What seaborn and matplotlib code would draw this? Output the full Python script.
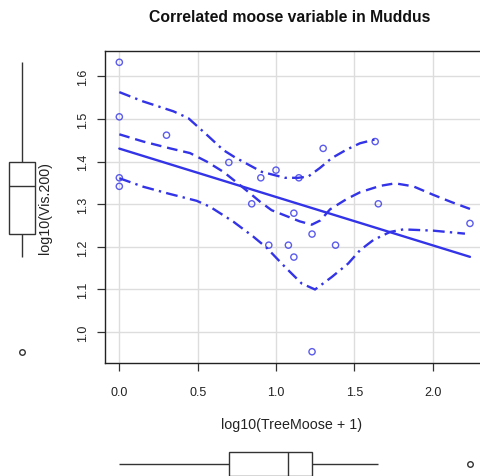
import numpy as np
import pandas as pd
import matplotlib
matplotlib.use("Agg")
import matplotlib.pyplot as plt
import seaborn as sns

# ---- data ----
tree_moose = [0.000, 0.000, 0.000, 0.000, 0.301, 0.699, 0.845, 0.903, 1.000, 1.114, 1.146,
              1.301, 1.633, 1.653, 2.238, 1.230, 0.954, 1.079, 1.114, 1.380, 1.230]
vis200 = [1.633, 1.505, 1.362, 1.342, 1.462, 1.398, 1.301, 1.362, 1.380, 1.279, 1.362,
          1.431, 1.447, 1.301, 1.255, 1.230, 1.204, 1.204, 1.176, 1.204, 0.954]

# smoother (dashed) and spread (dash-dot) curves
smooth_x = [0.000, 0.153, 0.324, 0.451, 0.558, 0.664, 0.770, 0.898, 0.972, 1.089, 1.150,
            1.228, 1.283, 1.345, 1.450, 1.536, 1.664, 1.760, 1.876, 2.004, 2.120, 2.238]
smooth_y = [1.464, 1.447, 1.431, 1.420, 1.400, 1.376, 1.345, 1.306, 1.286, 1.269, 1.260,
            1.252, 1.262, 1.288, 1.312, 1.328, 1.343, 1.349, 1.342, 1.322, 1.305, 1.289]
upper_x = [0.000, 0.153, 0.345, 0.440, 0.558, 0.664, 0.738, 0.909, 1.057, 1.142, 1.206,
           1.280, 1.355, 1.450, 1.536, 1.632]
upper_y = [1.563, 1.541, 1.518, 1.502, 1.463, 1.427, 1.410, 1.376, 1.362, 1.362, 1.365,
           1.385, 1.408, 1.428, 1.443, 1.452]
lower_x = [0.000, 0.153, 0.313, 0.494, 0.579, 0.728, 0.855, 0.940, 1.057, 1.164, 1.249,
           1.355, 1.461, 1.536, 1.621, 1.728, 1.813, 2.004, 2.206]
lower_y = [1.361, 1.341, 1.325, 1.308, 1.294, 1.259, 1.224, 1.198, 1.153, 1.114, 1.100,
           1.129, 1.161, 1.192, 1.216, 1.235, 1.241, 1.238, 1.231]

x_ticks = [0.0, 0.5, 1.0, 1.5, 2.0]
y_ticks = [1.0, 1.1, 1.2, 1.3, 1.4, 1.5, 1.6]

title = "Correlated moose variable in Muddus"
x_label = "log10(TreeMoose + 1)"
y_label = "log10(Vis.200)"

df = pd.DataFrame({"x": tree_moose, "y": vis200})

# ---- styling ----
sns.set_theme(style="white")
plt.rcParams["font.family"] = ["Liberation Sans", "DejaVu Sans"]
BLUE = "#3333e8"

W, H = 480, 477
fig = plt.figure(figsize=(W / 100, H / 100), dpi=100)

def fpos(l, t, r, b):
    return [l / W, (H - b) / H, (r - l) / W, (b - t) / H]

L, T, R, B = 105.3, 51.7, 484.0, 364.3
ax = fig.add_axes(fpos(L, T, R, B))
axl = fig.add_axes(fpos(0, T, 44, B), sharey=ax)
axb = fig.add_axes(fpos(L, 441, R, 489), sharex=ax)

# grid
ax.set_axisbelow(True)
ax.grid(True, color="#dddddd", lw=1.0)

# scatter + regression line
sns.regplot(data=df, x="x", y="y", ax=ax, ci=None, color=BLUE,
            scatter_kws=dict(facecolors="none", edgecolors=BLUE, s=20, linewidths=1.0),
            line_kws=dict(lw=1.7))

# smoother and spread
ax.plot(smooth_x, smooth_y, color=BLUE, lw=1.7, dashes=(4.5, 2.5))
ax.plot(upper_x, upper_y, color=BLUE, lw=1.7, dashes=(5, 2.2, 1, 2.2))
ax.plot(lower_x, lower_y, color=BLUE, lw=1.7, dashes=(5, 2.2, 1, 2.2))

xmin, xmax = min(tree_moose), max(tree_moose)
ymin, ymax = min(vis200), max(vis200)
ax.set_xticks(x_ticks)
ax.set_yticks(y_ticks)
ax.set_xticklabels([f"{v:.1f}" for v in x_ticks])
ax.set_yticklabels([f"{v:.1f}" for v in y_ticks], rotation=90, va="center")
ax.tick_params(axis="both", which="major", direction="out", length=5.8, width=0.9,
               color="#333333", labelsize=9, labelcolor="#222222", left=True, bottom=True)
ax.tick_params(axis="y", pad=6.0)
ax.tick_params(axis="x", pad=10.5)
for s in ax.spines.values():
    s.set_color("#222222")
    s.set_linewidth(1.0)
ax.set_xlabel(x_label, fontsize=10.3, color="#222222")
ax.set_ylabel(y_label, fontsize=10.3, color="#222222")
ax.xaxis.set_label_coords(0.493, -(425 - B) / (B - T), transform=ax.transAxes)
ax.yaxis.set_label_coords(-(L - 45) / (R - L), 0.5, transform=ax.transAxes)
ax.xaxis.label.set_va("center")
ax.yaxis.label.set_va("center")

fig.text(0.604, 1 - 18 / H, title, ha="center", va="center", fontsize=11.3,
         fontweight="bold", color="#111111")

# marginal boxplots
box_kw = dict(color="white", linecolor="#333333", linewidth=1.0, showcaps=False,
              fliersize=4, flierprops=dict(marker="o", markerfacecolor="none",
                                            markeredgecolor="#333333", markeredgewidth=1.0))
sns.boxplot(x=tree_moose, ax=axb, orient="h", width=0.5, **box_kw)
sns.boxplot(y=vis200, ax=axl, orient="v", width=0.57, **box_kw)
axb.set_ylim(-0.5, 0.5)
axl.set_xlim(-0.5, 0.5)
for a in (axb, axl):
    a.set_axis_off()

ax.set_xlim(xmin - 0.04 * (xmax - xmin), xmax + 0.04 * (xmax - xmin))
ax.set_ylim(ymin - 0.04 * (ymax - ymin), ymax + 0.04 * (ymax - ymin))

fig.savefig("out.png", dpi=100)
